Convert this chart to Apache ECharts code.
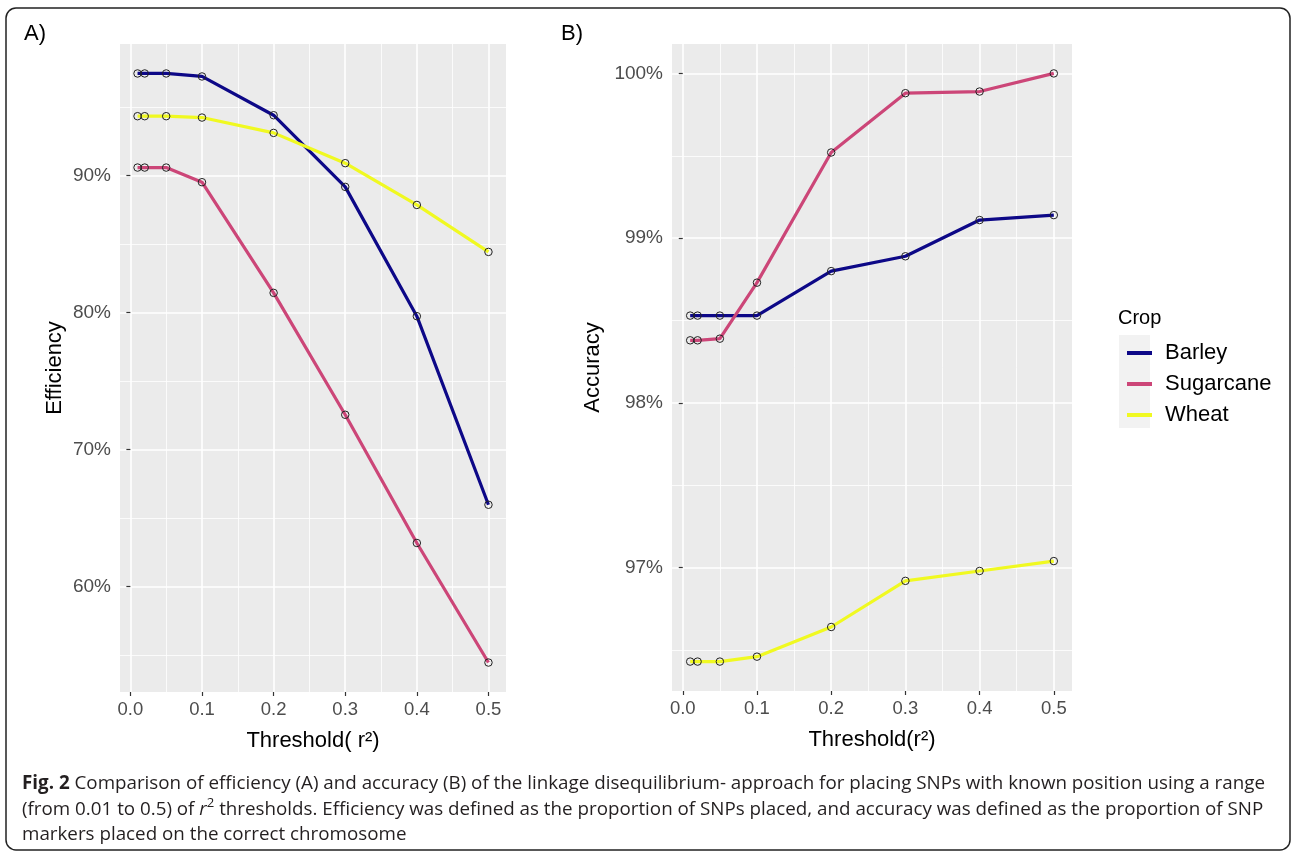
<!DOCTYPE html>
<html>
<head>
<meta charset="utf-8">
<script src="https://cdn.jsdelivr.net/npm/echarts@6/dist/echarts.min.js"></script>
<style>
html,body{margin:0;padding:0;background:#fff;}
#chart{position:absolute;left:0;top:0;width:1292px;height:854px;}
#cap{position:absolute;left:22px;top:770px;font-family:"Open Sans","Noto Sans",sans-serif;font-size:18px;line-height:25.5px;color:#231f20;white-space:nowrap;}
#cap b{font-weight:700;}
#cap sup{font-size:0.7em;line-height:0;vertical-align:baseline;position:relative;top:-0.55em;}
</style>
</head>
<body>
<div id="chart"></div>
<div id="cap"><span id="l1"><b>Fig. 2</b> Comparison of efficiency (A) and accuracy (B) of the linkage disequilibrium- approach for placing SNPs with known position using a range</span><br>(from 0.01 to 0.5) of <i>r</i><sup>2</sup> thresholds. Efficiency was defined as the proportion of SNPs placed, and accuracy was defined as the proportion of SNP<br>markers placed on the correct chromosome</div>
<script>
// ---- data ----
const crops = ['Barley', 'Sugarcane', 'Wheat'];
const thresholds = [0.01, 0.02, 0.05, 0.1, 0.2, 0.3, 0.4, 0.5];
const effBarley    = [97.45, 97.45, 97.45, 97.23, 94.40, 89.17, 79.73, 65.96];
const effSugarcane = [90.58, 90.58, 90.58, 89.51, 81.43, 72.53, 63.17, 54.44];
const effWheat     = [94.33, 94.33, 94.33, 94.23, 93.11, 90.90, 87.85, 84.42];
const accBarley    = [98.53, 98.53, 98.53, 98.53, 98.80, 98.89, 99.11, 99.14];
const accSugarcane = [98.38, 98.38, 98.39, 98.73, 99.52, 99.88, 99.89, 100.00];
const accWheat     = [96.43, 96.43, 96.43, 96.46, 96.64, 96.92, 96.98, 97.04];
const xTicks = [0, 0.1, 0.2, 0.3, 0.4, 0.5];
const xMinorTicks = [0.05, 0.15, 0.25, 0.35, 0.45];
const effTicks = [60, 70, 80, 90];
const effMinorTicks = [55, 65, 75, 85, 95];
const accTicks = [97, 98, 99, 100];
const accMinorTicks = [96.5, 97.5, 98.5, 99.5];

const colors = ['#0D0887', '#CC4678', '#F0F921'];
const FONT = 'Liberation Sans, Arial, sans-serif';

function ext(arrs) {
  const all = [].concat(...arrs);
  const mn = Math.min(...all), mx = Math.max(...all);
  const e = (mx - mn) * 0.05;
  return [mn - e, mx + e];
}
const xr = ext([thresholds]);
const effR = ext([effBarley, effSugarcane, effWheat]);
const accR = ext([accBarley, accSugarcane, accWheat]);

function xAxes(g, name) {
  return [{
    type: 'value', gridIndex: g, min: xr[0], max: xr[1], position: 'bottom',
    axisLine: {show: false},
    axisTick: {show: true, length: 4, lineStyle: {color: '#333', width: 1.2}, customValues: xTicks},
    axisLabel: {customValues: xTicks, formatter: v => v.toFixed(1), color: '#4D4D4D', fontSize: 18.5, fontFamily: FONT, margin: 8},
    splitLine: {show: true, lineStyle: {color: '#fff', width: 1.6}},
    name: name, nameLocation: 'middle', nameGap: 38,
    nameTextStyle: {color: '#000', fontSize: 22, fontFamily: FONT}
  }, {
    type: 'value', gridIndex: g, min: xr[0], max: xr[1], position: 'top',
    axisLine: {show: false}, axisTick: {show: false, customValues: xMinorTicks},
    axisLabel: {show: false, customValues: xMinorTicks},
    splitLine: {show: true, lineStyle: {color: '#fff', width: 0.8}}
  }];
}
function yAxes(g, r, ticks, minor, name, gap) {
  return [{
    type: 'value', gridIndex: g, min: r[0], max: r[1], position: 'left',
    axisLine: {show: false},
    axisTick: {show: true, length: 4, lineStyle: {color: '#333', width: 1.2}, customValues: ticks},
    axisLabel: {customValues: ticks, formatter: v => Math.round(v) + '%', color: '#4D4D4D', fontSize: 19, fontFamily: FONT, margin: 9},
    splitLine: {show: true, lineStyle: {color: '#fff', width: 1.6}},
    name: name, nameLocation: 'middle', nameGap: gap, nameRotate: 90,
    nameTextStyle: {color: '#000', fontSize: 22, fontFamily: FONT}
  }, {
    type: 'value', gridIndex: g, min: r[0], max: r[1], position: 'right',
    axisLine: {show: false}, axisTick: {show: false, customValues: minor},
    axisLabel: {show: false, customValues: minor},
    splitLine: {show: true, lineStyle: {color: '#fff', width: 0.8}}
  }];
}

function mkSeries(name, i, vals, xi, yi) {
  return {
    name: name, type: 'line', xAxisIndex: xi, yAxisIndex: yi,
    data: thresholds.map((t, k) => [t, vals[k]]),
    lineStyle: {color: colors[i], width: 3.2},
    symbol: 'circle', symbolSize: 7.5, showAllSymbol: true,
    itemStyle: {color: 'rgba(0,0,0,0)', borderColor: '#222', borderWidth: 1},
    emphasis: {disabled: true}, silent: true, z: 3
  };
}

const chart = echarts.init(document.getElementById('chart'), null, {renderer: 'canvas'});
chart.setOption({
  animation: false,
  backgroundColor: '#fff',
  grid: [
    {left: 120, top: 44, width: 386, height: 648, backgroundColor: '#EBEBEB', show: true, borderWidth: 0},
    {left: 672, top: 44, width: 400, height: 647, backgroundColor: '#EBEBEB', show: true, borderWidth: 0}
  ],
  xAxis: [...xAxes(0, 'Threshold( r\u00B2)'), ...xAxes(1, 'Threshold(r\u00B2)')],
  yAxis: [...yAxes(0, effR, effTicks, effMinorTicks, 'Efficiency', 54),
          ...yAxes(1, accR, accTicks, accMinorTicks, 'Accuracy', 68)],
  legend: {
    data: crops.map((c, i) => ({name: c, icon: 'rect', itemStyle: {color: colors[i], borderWidth: 0}})),
    orient: 'vertical', left: 1122, top: 337, itemWidth: 25, itemHeight: 4, itemGap: 9,
    selectedMode: false,
    textStyle: {fontSize: 22, fontFamily: FONT, color: '#000', lineHeight: 22, padding: [0, 0, 0, 8]}
  },
  graphic: [
    {type: 'rect', shape: {x: 6, y: 8, width: 1284, height: 842, r: 10}, style: {fill: 'none', stroke: '#222', lineWidth: 1.5}, silent: true, z: 0},
    {type: 'rect', shape: {x: 1119, y: 335, width: 31, height: 93}, style: {fill: '#F2F2F2'}, silent: true, z: 0},
    {type: 'text', x: 1118, y: 318, style: {text: 'Crop', fontSize: 20, fontFamily: FONT, fill: '#000', verticalAlign: 'middle'}, silent: true},
    {type: 'text', x: 24, y: 34, style: {text: 'A)', fontSize: 22, fontFamily: FONT, fill: '#000', verticalAlign: 'middle'}, silent: true},
    {type: 'text', x: 561, y: 34, style: {text: 'B)', fontSize: 22, fontFamily: FONT, fill: '#000', verticalAlign: 'middle'}, silent: true}
  ],
  series: [
    mkSeries('Barley', 0, effBarley, 0, 0),
    mkSeries('Sugarcane', 1, effSugarcane, 0, 0),
    mkSeries('Wheat', 2, effWheat, 0, 0),
    mkSeries('Barley', 0, accBarley, 2, 2),
    mkSeries('Sugarcane', 1, accSugarcane, 2, 2),
    mkSeries('Wheat', 2, accWheat, 2, 2)
  ]
});

// fit caption first line to its width in the figure
(function () {
  const l1 = document.getElementById('l1');
  const cap = document.getElementById('cap');
  const w = l1.getBoundingClientRect().width;
  if (w > 0) {
    let fs = 18 * 1244 / w;
    fs = Math.max(14, Math.min(22, fs));
    cap.style.fontSize = fs.toFixed(2) + 'px';
  }
})();
</script>
</body>
</html>
